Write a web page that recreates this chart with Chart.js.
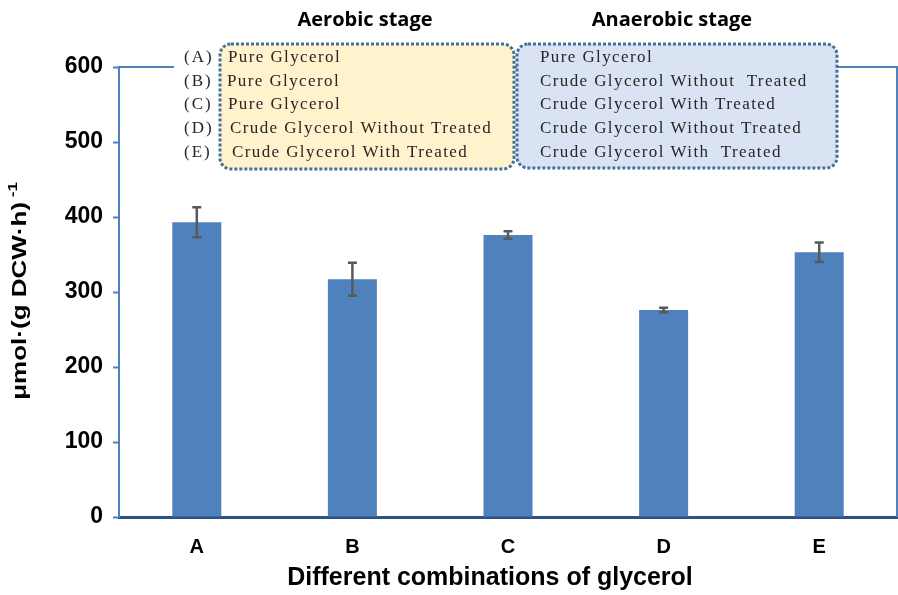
<!DOCTYPE html>
<html>
<head>
<meta charset="utf-8">
<script src="https://cdn.jsdelivr.net/npm/chart.js@4"></script>
<style>
  html, body { margin: 0; padding: 0; background: #fff; }
  canvas { display: block; }
</style>
</head>
<body>
<canvas id="chart" width="898" height="595"></canvas>
<script>
const categories = ['A', 'B', 'C', 'D', 'E'];
const rates = [393, 317, 376, 276, 353];
const errors = [20, 22, 5, 3, 13];
const yTicks = [0, 100, 200, 300, 400, 500, 600];

const caseLabels = ['(A)', '(B)', '(C)', '(D)', '(E)'];
const aerobic = ['Pure Glycerol', 'Pure Glycerol', 'Pure Glycerol',
  'Crude Glycerol Without Treated', 'Crude Glycerol With Treated'];
const anaerobic = ['Pure Glycerol', 'Crude Glycerol Without  Treated',
  'Crude Glycerol With Treated', 'Crude Glycerol Without Treated',
  'Crude Glycerol With  Treated'];

const blue = '#4F81BD';

const errorBars = {
  id: 'errorBars',
  afterDatasetsDraw(chart) {
    const { ctx, scales: { y } } = chart;
    const meta = chart.getDatasetMeta(0);
    ctx.save();
    ctx.strokeStyle = '#595959';
    ctx.lineWidth = 2.5;
    meta.data.forEach((bar, i) => {
      const top = y.getPixelForValue(rates[i] + errors[i]);
      const bot = y.getPixelForValue(rates[i] - errors[i]);
      ctx.beginPath();
      ctx.moveTo(bar.x, top); ctx.lineTo(bar.x, bot);
      ctx.moveTo(bar.x - 4.5, top); ctx.lineTo(bar.x + 4.5, top);
      ctx.moveTo(bar.x - 4.5, bot); ctx.lineTo(bar.x + 4.5, bot);
      ctx.stroke();
    });
    ctx.restore();
  }
};

const decorations = {
  id: 'decorations',
  afterDraw(chart) {
    const { ctx, chartArea: { left, right, top } } = chart;
    const bottom = chart.scales.y.getPixelForValue(0);
    ctx.save();
    // frame top + right
    ctx.strokeStyle = blue;
    ctx.lineWidth = 2;
    ctx.beginPath();
    ctx.moveTo(left, top);
    ctx.lineTo(right, top);
    ctx.lineTo(right, bottom);
    ctx.stroke();

    // label area
    ctx.fillStyle = '#fff';
    ctx.fillRect(174, 44, 46, 125);

    function box(x, y, w, h, fill) {
      ctx.beginPath();
      ctx.roundRect(x, y, w, h, 11);
      ctx.fillStyle = fill;
      ctx.fill();
      ctx.setLineDash([3, 2]);
      ctx.lineWidth = 3;
      ctx.strokeStyle = '#41719C';
      ctx.stroke();
      ctx.setLineDash([]);
    }
    box(220, 44, 294, 125, '#FFF2CC');
    box(517, 44, 320, 124, '#DAE3F3');

    const rows = [58, 82, 105, 129, 153];
    ctx.fillStyle = '#262626';
    ctx.textBaseline = 'middle';
    ctx.textAlign = 'left';
    ctx.font = '17px "Liberation Serif"';
    ctx.letterSpacing = '2px';
    caseLabels.forEach((t, i) => ctx.fillText(t, 184, rows[i]));
    ctx.letterSpacing = '1.4px';
    const ax = [228, 227, 228, 230, 232];
    aerobic.forEach((t, i) => ctx.fillText(t, ax[i], rows[i]));
    anaerobic.forEach((t, i) => ctx.fillText(t, 540, rows[i]));
    ctx.letterSpacing = '0px';

    // stage titles
    ctx.fillStyle = '#000';
    ctx.textAlign = 'center';
    ctx.font = 'bold 20px "Open Sans"';
    ctx.fillText('Aerobic stage', 365, 20);
    ctx.fillText('Anaerobic stage', 672, 20);

    // x axis title
    ctx.font = 'bold 25px "Liberation Sans"';
    ctx.fillText('Different combinations of glycerol', 490, 578);

    // y axis title
    ctx.translate(20, 291);
    ctx.rotate(-Math.PI / 2);
    const sx = 1.3;
    const main = 'μmol·(g DCW·h)';
    ctx.font = 'bold 20px "Liberation Sans"';
    const w1 = ctx.measureText(main).width * sx;
    ctx.font = 'bold 13px "Liberation Sans"';
    const w2 = ctx.measureText(' -1').width * sx;
    const x0 = -(w1 + w2) / 2;
    ctx.textAlign = 'left';
    ctx.save();
    ctx.scale(sx, 1);
    ctx.font = 'bold 20px "Liberation Sans"';
    ctx.fillText(main, x0 / sx, 0);
    ctx.font = 'bold 13px "Liberation Sans"';
    ctx.fillText(' -1', (x0 + w1) / sx, -7);
    ctx.restore();
    ctx.restore();
  }
};

new Chart(document.getElementById('chart'), {
  type: 'bar',
  plugins: [errorBars, decorations],
  data: {
    labels: categories,
    datasets: [{
      data: rates,
      backgroundColor: blue,
      borderWidth: 0,
      categoryPercentage: 1,
      barPercentage: 0.315
    }]
  },
  options: {
    responsive: false,
    animation: false,
    layout: { padding: { top: 67, right: 1, left: 0, bottom: 0 } },
    plugins: { legend: { display: false }, tooltip: { enabled: false } },
    scales: {
      x: {
        grid: { display: false },
        border: { color: '#2E5283', width: 3 },
        ticks: {
          color: '#000',
          font: { family: 'Liberation Sans', weight: 'bold', size: 20 },
          padding: 10
        },
        afterFit(s) { s.height = 78; }
      },
      y: {
        min: 0,
        max: 600,
        afterBuildTicks(s) { s.ticks = yTicks.map(v => ({ value: v })); },
        grid: { drawOnChartArea: false, tickLength: 6, color: blue, tickWidth: 2 },
        border: { color: blue, width: 2 },
        ticks: {
          color: '#000',
          font: { family: 'Liberation Sans', weight: 'bold', size: 23 },
          padding: 10
        },
        afterFit(s) { s.width = 119; }
      }
    }
  }
});
</script>
</body>
</html>
